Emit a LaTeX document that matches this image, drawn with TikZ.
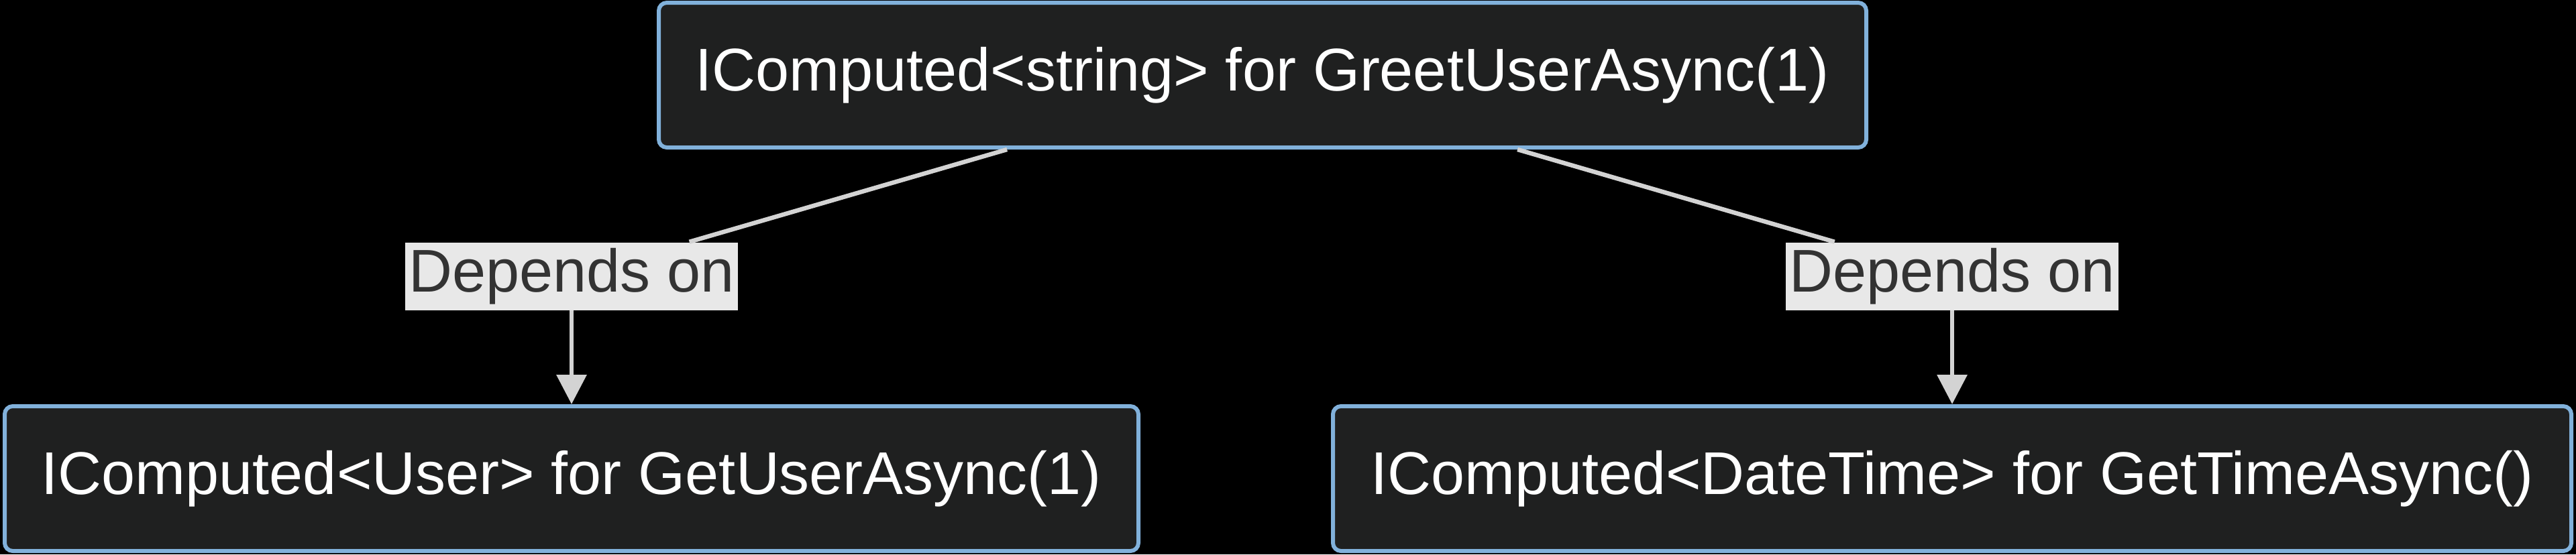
\documentclass[tikz,border=0pt]{standalone}
\usepackage{fontspec}
\setmainfont{Liberation Sans}
\usetikzlibrary{arrows.meta}
\definecolor{boxfill}{HTML}{1F2020}
\definecolor{boxline}{HTML}{81B1DB}
\definecolor{edgeline}{HTML}{D3D3D3}
\definecolor{labelfill}{HTML}{E8E8E8}
\definecolor{labeltext}{HTML}{333333}

\begin{document}
\begin{tikzpicture}[
    box/.style={rectangle,rounded corners=0.12cm,draw=boxline,line width=0.06cm,fill=boxfill,
        text=white,minimum height=2.16cm,inner sep=0pt,font=\fontsize{25.6}{30}\selectfont},
    deplabel/.style={rectangle,fill=labelfill,text=labeltext,inner xsep=0.05cm,inner ysep=0pt,
        minimum height=1.01cm,font=\fontsize{25.6}{30}\selectfont},
    edge/.style={draw=edgeline,line width=0.065cm}]
        \fill[black] (0,0) rectangle (38.4,-8.27);
        \begin{scope}[every node/.style={box}]
        \node[minimum width=18.0cm] (greet) at (18.82,-1.12) {IComputed<string> for GreetUserAsync(1)};
        \node[minimum width=16.9cm] (user) at (8.52,-7.14) {IComputed<User> for GetUserAsync(1)};
        \node[minimum width=18.46cm] (time) at (29.10,-7.14) {IComputed<DateTime> for GetTimeAsync()};
        \end{scope}
        \node[deplabel] (dep1) at (8.52,-4.12) {Depends on};
        \node[deplabel] (dep2) at (29.10,-4.12) {Depends on};
        \draw[edge] (greet) -- (dep1);
        \draw[edge,-{Triangle[length=0.44cm,width=0.44cm]}] (dep1) -- (user);
        \draw[edge] (greet) -- (dep2);
        \draw[edge,-{Triangle[length=0.44cm,width=0.44cm]}] (dep2) -- (time);
    \end{tikzpicture}
\end{document}
